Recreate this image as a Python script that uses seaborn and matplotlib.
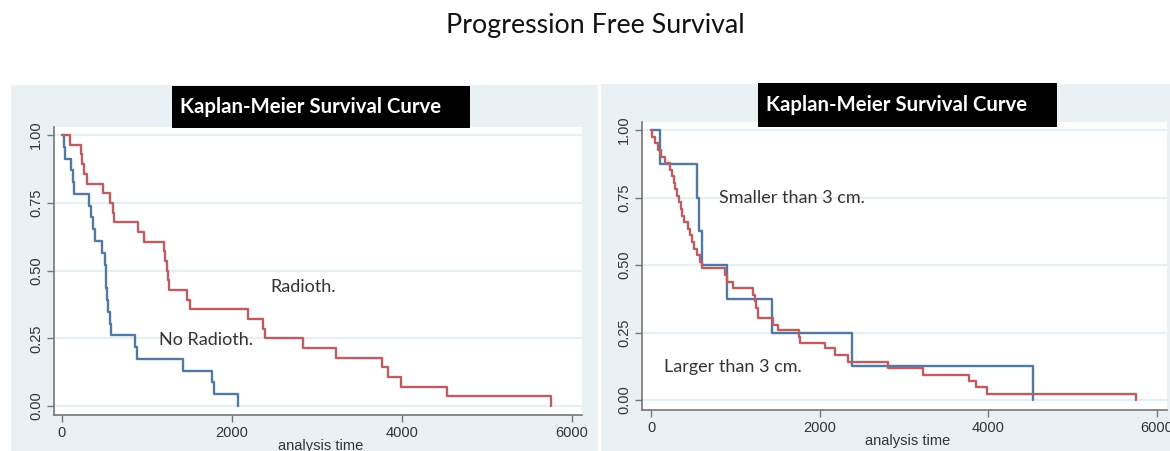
import matplotlib
matplotlib.use("Agg")
import matplotlib.pyplot as plt
from matplotlib.patches import Rectangle
import seaborn as sns
import pandas as pd

# ---------------- data ----------------
# Left panel: radiotherapy vs no radiotherapy
left_none_t = [0, 20, 35, 106, 130, 141, 321, 340, 360, 388, 467, 506, 514, 522,
               530, 537, 565, 577, 859, 882, 1424, 1761, 1788, 2067]
left_none_s = [1.0, .957, .913, .870, .826, .783, .739, .696, .652, .609, .565, .522,
               .478, .435, .391, .348, .304, .261, .217, .174, .130, .087, .043, 0.0]

left_radio_t = [0, 94, 224, 240, 262, 290, 486, 565, 604, 615, 890, 966, 1204, 1215,
                1230, 1245, 1259, 1467, 1506, 2188, 2369, 2390, 2831, 3224, 3769,
                3839, 3985, 4526, 5749]
left_radio_s = [1.0, .964, .929, .893, .857, .821, .786, .750, .714, .679, .643, .607,
                .571, .536, .500, .464, .429, .393, .357, .321, .286, .250, .214, .179,
                .143, .107, .071, .036, 0.0]

# Right panel: tumour size
right_small_t = [0, 107, 541, 573, 609, 897, 1431, 2380, 4526]
right_small_s = [1.0, .875, .75, .625, .5, .375, .25, .125, 0.0]

right_large_t = [0, 15, 45, 80, 120, 160, 230, 250, 270, 290, 310, 330, 350, 370, 390,
                 440, 460, 490, 515, 545, 575, 605, 877, 897, 976, 1213, 1230, 1250,
                 1273, 1450, 1510, 1755, 1770, 2063, 2182, 2340, 2814, 3222, 3775,
                 3854, 3988, 5749]
right_large_s = [1.0, .976, .951, .927, .902, .878, .854, .829, .805, .780, .756, .732,
                 .707, .683, .659, .634, .610, .585, .561, .537, .512, .488, .463, .439,
                 .415, .39, .366, .342, .305, .278, .259, .235, .21, .191, .167, .142,
                 .117, .093, .072, .047, .022, 0.0]

x_ticks = [0, 2000, 4000, 6000]
y_ticks = [0.0, 0.25, 0.5, 0.75, 1.0]
y_tick_labels = ["0.00", "0.25", "0.50", "0.75", "1.00"]

main_title = "Progression Free Survival"
panel_title = "Kaplan-Meier Survival Curve"
x_label = "analysis time"

# ---------------- style ----------------
sns.set_theme(style="white")
plt.rcParams["font.family"] = ["Liberation Sans", "DejaVu Sans"]

BLUE = "#5179A3"
RED = "#BC5D62"
REGION = "#EAF1F4"
GRID = "#E6EFF2"
AXC = "#777777"

W, H = 1170, 451
fig = plt.figure(figsize=(W / 100, H / 100), dpi=100)
fig.patch.set_facecolor("white")


def fx(px):
    return px / W


def fy(py):
    return 1 - py / H


def region(x0, y0, x1, y1, color, z):
    fig.patches.append(Rectangle((fx(x0), fy(y1)), (x1 - x0) / W, (y1 - y0) / H,
                                 transform=fig.transFigure, facecolor=color,
                                 edgecolor="none", zorder=z))


def panel(box, ax_px, xlim, ylim, curves, labels, tbox, ttext_x, ttext_y, xlab_y):
    region(*box, REGION, -5)
    x0, y0, x1, y1 = ax_px
    ax = fig.add_axes([fx(x0), fy(y1), (x1 - x0) / W, (y1 - y0) / H])
    ax.set_facecolor("white")
    for yv in y_ticks:
        ax.axhline(yv, color=GRID, lw=1.6, zorder=0)
    for t, s, c in curves:
        df = pd.DataFrame({"t": t, "s": s})
        sns.lineplot(data=df, x="t", y="s", ax=ax, color=c, lw=1.7,
                     drawstyle="steps-post", estimator=None, sort=False)
    ax.set_xlim(*xlim)
    ax.set_ylim(*ylim)
    ax.set_xticks(x_ticks)
    ax.set_xticklabels([str(v) for v in x_ticks])
    ax.set_yticks(y_ticks)
    ax.set_yticklabels(y_tick_labels, rotation=90, va="center")
    ax.tick_params(axis="both", length=5, width=1, color=AXC, labelsize=10.5,
                   labelcolor="#333333", direction="out", left=True, bottom=True)
    ax.tick_params(axis="y", pad=3)
    ax.tick_params(axis="x", pad=3)
    for side in ["top", "right"]:
        ax.spines[side].set_visible(False)
    for side in ["left", "bottom"]:
        ax.spines[side].set_color(AXC)
        ax.spines[side].set_linewidth(1.2)
    ax.set_xlabel("")
    ax.set_ylabel("")
    for (lx, ly, txt) in labels:
        fig.text(fx(lx), fy(ly), txt, ha="left", va="center", fontsize=13,
                 color="#333333", family=["Lato", "DejaVu Sans"])
    bx0, by0, bx1, by1 = tbox
    region(bx0, by0, bx1, by1, "black", 5)
    fig.text(fx(ttext_x), fy(ttext_y), panel_title, ha="left", va="center",
             fontsize=14.7, color="white", fontweight="bold",
             family=["Lato", "DejaVu Sans"], zorder=6)
    fig.text(fx((x0 + x1) / 2 + 3), fy(xlab_y), x_label, ha="center", va="center",
             fontsize=10.5, color="#333333")
    return ax


panel(box=(11, 85, 598, 451), ax_px=(54, 127, 582, 415),
      xlim=(-94, 6118), ylim=(-0.033, 1.03),
      curves=[(left_none_t, left_none_s, BLUE), (left_radio_t, left_radio_s, RED)],
      labels=[(270, 287, "Radioth."), (159, 340, "No Radioth.")],
      tbox=(172, 86, 470, 128), ttext_x=180, ttext_y=107, xlab_y=446)

panel(box=(601, 84, 1170, 451), ax_px=(642, 122, 1167, 410),
      xlim=(-107, 6119), ylim=(-0.037, 1.03),
      curves=[(right_small_t, right_small_s, BLUE), (right_large_t, right_large_s, RED)],
      labels=[(719, 198, "Smaller than 3 cm."), (664, 367, "Larger than 3 cm.")],
      tbox=(758, 83, 1057, 127), ttext_x=766, ttext_y=105, xlab_y=441)

fig.text(fx(595), fy(26), main_title, ha="center", va="center", fontsize=19.3,
         color="#111111", family=["Lato", "DejaVu Sans"])

fig.savefig("out.png", dpi=100, facecolor="white")
